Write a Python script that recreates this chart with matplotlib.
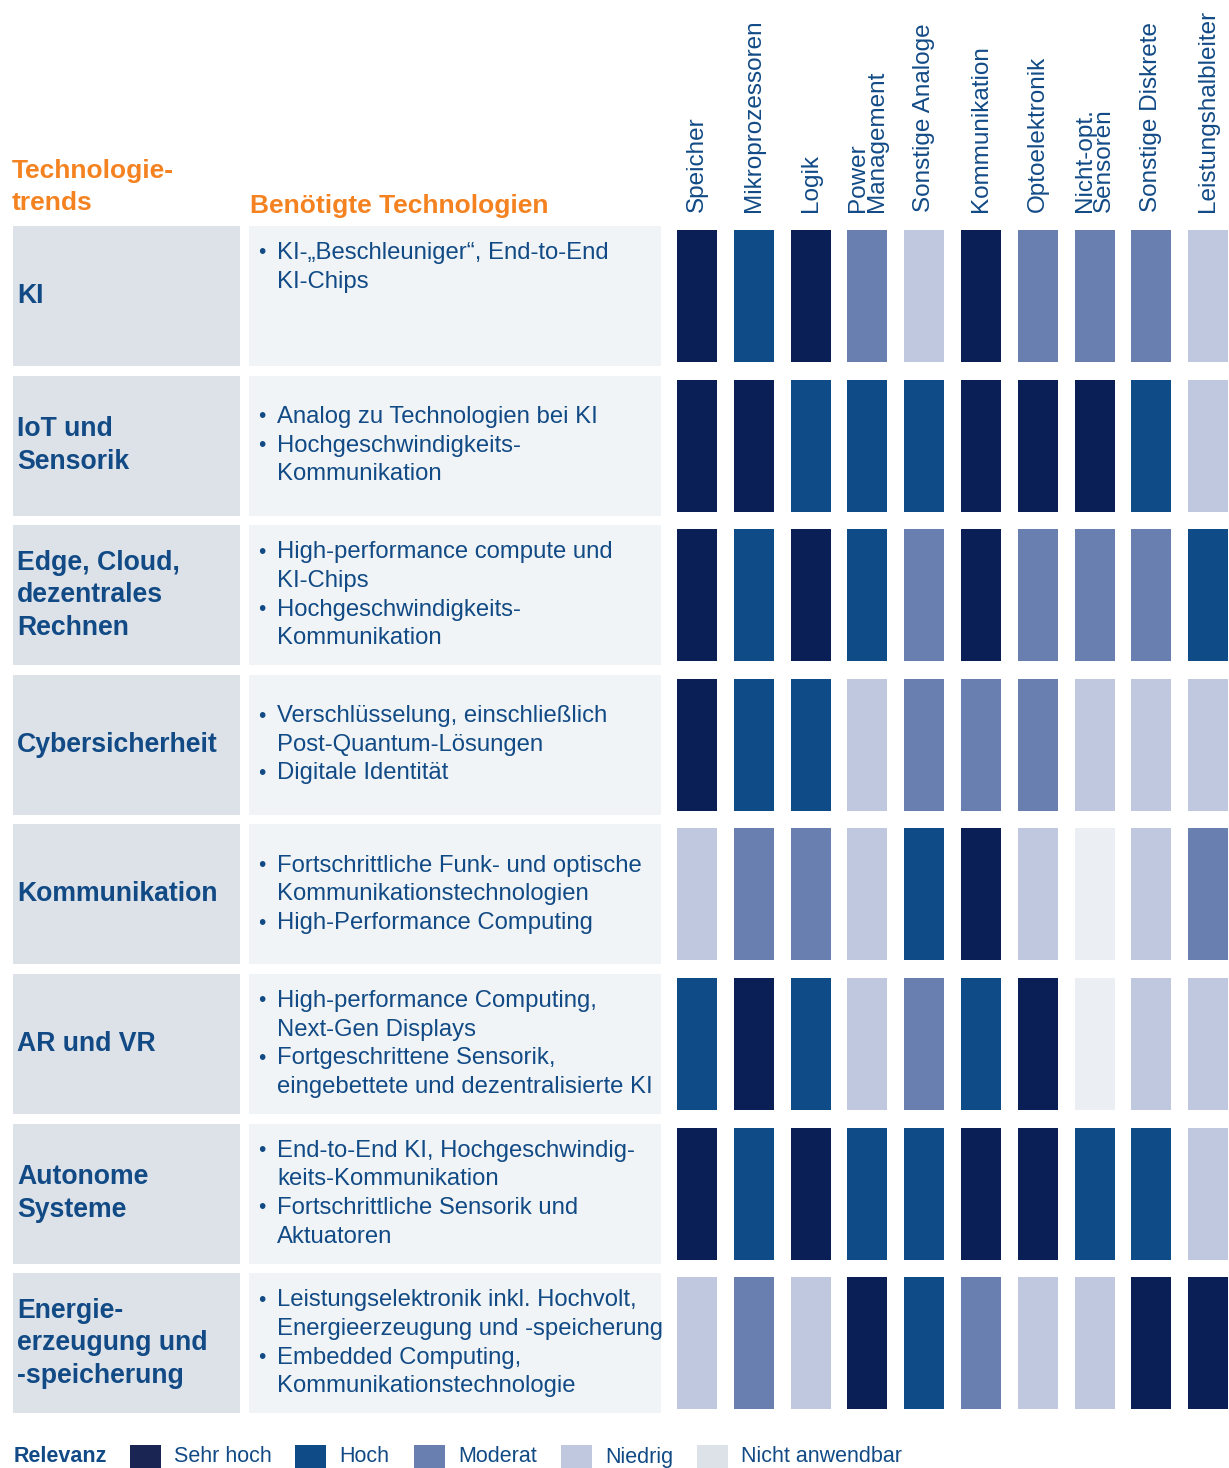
import matplotlib
matplotlib.use("Agg")
import matplotlib.pyplot as plt
from matplotlib.patches import Rectangle

# --- data -----------------------------------------------------------------
trends = ["KI", "IoT und\nSensorik", "Edge, Cloud,\ndezentrales\nRechnen",
          "Cybersicherheit", "Kommunikation", "AR und VR",
          "Autonome\nSysteme", "Energie-\nerzeugung und\n-speicherung"]

# each trend: list of bullets, each bullet a list of lines
needs = [
    [["KI-„Beschleuniger“, End-to-End", "KI-Chips"]],
    [["Analog zu Technologien bei KI"], ["Hochgeschwindigkeits-", "Kommunikation"]],
    [["High-performance compute und", "KI-Chips"], ["Hochgeschwindigkeits-", "Kommunikation"]],
    [["Verschlüsselung, einschließlich", "Post-Quantum-Lösungen"], ["Digitale Identität"]],
    [["Fortschrittliche Funk- und optische", "Kommunikationstechnologien"],
     ["High-Performance Computing"]],
    [["High-performance Computing,", "Next-Gen Displays"],
     ["Fortgeschrittene Sensorik,", "eingebettete und dezentralisierte KI"]],
    [["End-to-End KI, Hochgeschwindig-", "keits-Kommunikation"],
     ["Fortschrittliche Sensorik und", "Aktuatoren"]],
    [["Leistungselektronik inkl. Hochvolt,", "Energieerzeugung und -speicherung"],
     ["Embedded Computing,", "Kommunikationstechnologie"]],
]

segments = ["Speicher", "Mikroprozessoren", "Logik", "Power\nManagement",
            "Sonstige Analoge", "Kommunikation", "Optoelektronik",
            "Nicht-opt.\nSensoren", "Sonstige Diskrete", "Leistungshalbleiter"]

# relevance: 4 sehr hoch, 3 hoch, 2 moderat, 1 niedrig, 0 nicht anwendbar
relevance = [
    [4, 3, 4, 2, 1, 4, 2, 2, 2, 1],
    [4, 4, 3, 3, 3, 4, 4, 4, 3, 1],
    [4, 3, 4, 3, 2, 4, 2, 2, 2, 3],
    [4, 3, 3, 1, 2, 2, 2, 1, 1, 1],
    [1, 2, 2, 1, 3, 4, 1, 0, 1, 2],
    [3, 4, 3, 1, 2, 3, 4, 0, 1, 1],
    [4, 3, 4, 3, 3, 4, 4, 3, 3, 1],
    [1, 2, 1, 4, 3, 2, 1, 1, 4, 4],
]

legend_labels = ["Sehr hoch", "Hoch", "Moderat", "Niedrig", "Nicht anwendbar"]
legend_levels = [4, 3, 2, 1, 0]

# --- style ----------------------------------------------------------------
level_colors = {4: "#0a1f56", 3: "#0f4c87", 2: "#687faf", 1: "#c0c8e0", 0: "#ebeff3"}
legend_colors = {4: "#1b2553", 3: "#0f4c87", 2: "#687faf", 1: "#c0c8e0", 0: "#dce2e8"}
txt_blue = "#114a85"
orange = "#f58220"
left_bg = "#dce2e8"
mid_bg = "#f1f4f6"

plt.rcParams["font.family"] = ["Liberation Sans", "DejaVu Sans"]

fig = plt.figure(figsize=(12.29, 14.68), dpi=100)
ax = fig.add_axes([0, 0, 1, 1])
ax.set_xlim(0, 1229)
ax.set_ylim(1468, 0)
ax.axis("off")

row0, row_pitch, row_h = 226, 149.6, 140
col0, col_pitch, col_w = 677, 56.8, 40
line_h = 28.7

# headers
ax.text(12, 171, "Technologie-", color=orange, fontsize=19, fontweight="bold", va="center")
ax.text(12, 203, "trends", color=orange, fontsize=19, fontweight="bold", va="center")
ax.text(250, 206, "Benötigte Technologien", color=orange, fontsize=19,
        fontweight="bold", va="center")

for j, seg in enumerate(segments):
    ax.text(col0 + j * col_pitch + col_w / 2, 212, seg, rotation=90, ha="center",
            va="bottom", multialignment="left", linespacing=0.85,
            color=txt_blue, fontsize=17.5)

# rows
for i, trend in enumerate(trends):
    top = row0 + i * row_pitch
    mid = top + row_h / 2
    ax.add_patch(Rectangle((13, top), 227, row_h, color=left_bg, lw=0))
    ax.add_patch(Rectangle((249, top), 412, row_h, color=mid_bg, lw=0))
    ax.text(17, mid, trend, color=txt_blue, fontsize=19.2, fontweight="bold",
            va="center", ha="left", linespacing=1.32)

    lines = []
    for bullet in needs[i]:
        for k, ln in enumerate(bullet):
            lines.append((k == 0, ln))
    n = max(len(lines), 3)
    if len(lines) < 3:
        n = 4
    y = mid - (n - 1) / 2 * line_h
    for first, ln in lines:
        if first:
            ax.text(258, y, "•", color=txt_blue, fontsize=15, va="center")
        ax.text(277, y, ln, color=txt_blue, fontsize=17.2, va="center")
        y += line_h

    vals = relevance[i]
    ax.bar([col0 + j * col_pitch for j in range(len(vals))], row_h - 8,
           bottom=top + 4, width=col_w, align="edge",
           color=[level_colors[v] for v in vals], linewidth=0)

# legend
ax.text(14, 1457, "Relevanz", color=txt_blue, fontsize=15.5, fontweight="bold", va="center")
leg_sq = [130, 295, 414, 561, 697]
for x, lab, lev in zip(leg_sq, legend_labels, legend_levels):
    ax.add_patch(Rectangle((x, 1445), 31, 30, color=legend_colors[lev], lw=0))
    ax.text(x + 44, 1457, lab, color=txt_blue, fontsize=15.5, va="center")

fig.savefig("out.png", dpi=100)
